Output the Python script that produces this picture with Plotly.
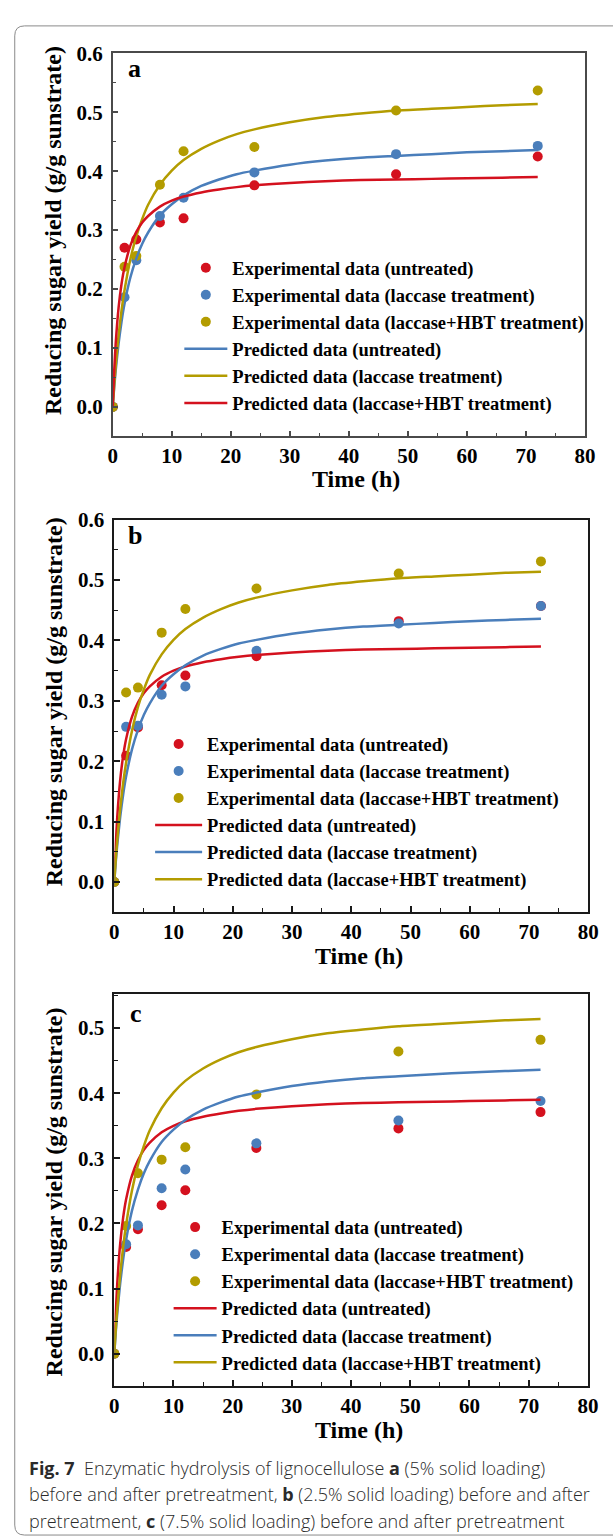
import plotly.graph_objects as go

W, H = 613, 1539

# ---------------- data ----------------
t_exp = [0, 2, 4, 8, 12, 24, 48, 72]

# panel a (5% solid loading)
a_untreated = [0, 0.270, 0.284, 0.313, 0.320, 0.376, 0.395, 0.425]
a_laccase = [0, 0.186, 0.249, 0.324, 0.355, 0.398, 0.429, 0.443]
a_hbt = [0, 0.238, 0.256, 0.377, 0.434, 0.441, 0.503, 0.537]

# panel b (2.5% solid loading)
b_untreated = [0, 0.209, 0.256, 0.326, 0.342, 0.374, 0.432, 0.457]
b_laccase = [0, 0.257, 0.259, 0.310, 0.324, 0.383, 0.428, 0.457]
b_hbt = [0, 0.314, 0.322, 0.413, 0.452, 0.486, 0.511, 0.531]

# panel c (7.5% solid loading)
c_untreated = [0, 0.164, 0.191, 0.228, 0.251, 0.316, 0.346, 0.371]
c_laccase = [0, 0.168, 0.197, 0.254, 0.283, 0.323, 0.358, 0.388]
c_hbt = [0, 0.196, 0.277, 0.298, 0.317, 0.398, 0.464, 0.482]

# predicted curves (same in all panels)
t_pred = [0, 0.25, 0.5, 1, 1.5, 2, 3, 4, 5, 6, 8, 10, 12, 15, 18, 21, 24,
          30, 36, 42, 48, 54, 60, 66, 72]
pred_low = [0, 0.061, 0.107, 0.169, 0.209, 0.237, 0.274, 0.297, 0.313, 0.324,
            0.340, 0.350, 0.357, 0.364, 0.369, 0.373, 0.376, 0.380, 0.383,
            0.385, 0.386, 0.387, 0.388, 0.389, 0.390]
pred_mid = [0, 0.033, 0.061, 0.108, 0.145, 0.175, 0.220, 0.252, 0.277, 0.296,
            0.325, 0.344, 0.359, 0.375, 0.386, 0.395, 0.401, 0.411, 0.418,
            0.423, 0.426, 0.429, 0.432, 0.434, 0.436]
pred_high = [0, 0.037, 0.069, 0.122, 0.164, 0.198, 0.251, 0.290, 0.319, 0.343,
             0.377, 0.401, 0.419, 0.438, 0.452, 0.463, 0.471, 0.483, 0.492,
             0.498, 0.503, 0.506, 0.509, 0.512, 0.514]

exp_names = ["Experimental data (untreated)",
             "Experimental data (laccase treatment)",
             "Experimental data (laccase+HBT treatment)"]
pred_names = ["Predicted data (untreated)",
              "Predicted data (laccase treatment)",
              "Predicted data (laccase+HBT treatment)"]
x_ticks = [0, 10, 20, 30, 40, 50, 60, 70, 80]

RED = "#D4111E"
BLUE = "#4A7EBB"
OLIVE = "#B39C00"

SERIF = "Liberation Serif"


def px(x):
    return x / W


def py(y):
    return 1 - y / H


fig = go.Figure()

panels = [
    ("", [a_untreated, a_laccase, a_hbt],
     [(pred_mid, BLUE), (pred_high, OLIVE), (pred_low, RED)], "legend"),
    ("2", [b_untreated, b_laccase, b_hbt],
     [(pred_low, RED), (pred_mid, BLUE), (pred_high, OLIVE)], "legend2"),
    ("3", [c_untreated, c_laccase, c_hbt],
     [(pred_low, RED), (pred_mid, BLUE), (pred_high, OLIVE)], "legend3"),
]

exp_colors = [RED, BLUE, OLIVE]

for suffix, exps, preds, leg in panels:
    xa = "x" + suffix
    ya = "y" + suffix
    for i, (vals, col) in enumerate(zip(exps, exp_colors)):
        fig.add_trace(go.Scatter(
            x=t_exp, y=vals, mode="markers", name=exp_names[i],
            marker=dict(color=col, size=10), xaxis=xa, yaxis=ya,
            legend=leg, hoverinfo="skip"))
    for i, (vals, col) in enumerate(preds):
        fig.add_trace(go.Scatter(
            x=t_pred, y=vals, mode="lines", name=pred_names[i],
            line=dict(color=col, width=2.5, shape="spline", smoothing=0.6),
            xaxis=xa, yaxis=ya, legend=leg, hoverinfo="skip"))

tickfont = dict(family=SERIF, size=21, color="black", weight="bold")
legfont = dict(family=SERIF, size=18.5, color="black", weight="bold")


def xaxis_cfg(x0, x1, anchor, lc):
    return dict(domain=[px(x0), px(x1)], anchor=anchor, range=[0, 80],
                tickmode="array", tickvals=x_ticks, ticks="inside", ticklen=6,
                tickwidth=1.5, tickcolor=lc, showline=True, linecolor=lc,
                linewidth=1.5, mirror=True, showgrid=False, zeroline=False,
                tickfont=tickfont,
                minor=dict(dtick=5, tick0=0, ticks="inside", ticklen=4,
                           tickwidth=1.2, tickcolor=lc, showgrid=False))


def yaxis_cfg(y0, y1, anchor, rng, lc):
    return dict(domain=[py(y1), py(y0)], anchor=anchor, range=rng,
                dtick=0.1, tick0=0, tickformat=".1f", ticks="inside",
                ticklen=6, tickwidth=1.5, tickcolor=lc, showline=True,
                linecolor=lc, linewidth=1.5, mirror=True, showgrid=False,
                zeroline=False, tickfont=tickfont, ticklabelstandoff=4,
                minor=dict(dtick=0.05, tick0=0, ticks="inside", ticklen=4,
                           tickwidth=1.2, tickcolor=lc, showgrid=False))


def legend_cfg(x, y, iw):
    return dict(x=px(x), y=py(y), xanchor="left", yanchor="top",
                bgcolor="rgba(0,0,0,0)", font=legfont, itemwidth=iw,
                tracegroupgap=0, borderwidth=0)


fig.update_layout(
    width=W, height=H, margin=dict(l=0, r=0, t=0, b=0),
    paper_bgcolor="white", plot_bgcolor="white", showlegend=True,
    xaxis=xaxis_cfg(110.6, 595.5, "y", "#4a4a4a"),
    yaxis=yaxis_cfg(41.7, 427.7, "x", [-0.05, 0.6], "#4a4a4a"),
    xaxis2=xaxis_cfg(112.2, 599, "y2", "#1a1a1a"),
    yaxis2=yaxis_cfg(511.7, 907.3, "x2", [-0.05, 0.6], "#1a1a1a"),
    xaxis3=xaxis_cfg(112.2, 598.5, "y3", "#1a1a1a"),
    yaxis3=yaxis_cfg(990, 1385, "x3", [-0.05, 0.552], "#1a1a1a"),
    legend=legend_cfg(179, 239, 43),
    legend2=legend_cfg(149, 719, 47),
    legend3=legend_cfg(168, 1206, 43),
)

ann = []
# panel letters
for letter, x, y in [("a", 133, 57), ("b", 133, 528), ("c", 134, 1009)]:
    ann.append(dict(text="<b>" + letter + "</b>", x=px(x), y=py(y),
                    xref="paper", yref="paper", showarrow=False,
                    xanchor="center", yanchor="middle",
                    font=dict(family=SERIF, size=26, color="black")))
# axis titles
for x, y in [(360, 471), (364, 951), (363, 1429)]:
    ann.append(dict(text="<b>Time (h)</b>", x=px(x), y=py(y), xref="paper",
                    yref="paper", showarrow=False, xanchor="center",
                    yanchor="middle",
                    font=dict(family=SERIF, size=24, color="black")))
for x, y in [(50, 220), (50, 695), (50, 1189)]:
    ann.append(dict(text="<b>Reducing sugar yield (g/g sunstrate)</b>",
                    x=px(x), y=py(y), xref="paper", yref="paper",
                    showarrow=False, xanchor="center", yanchor="middle",
                    textangle=-90,
                    font=dict(family=SERIF, size=24, color="black")))
# caption
cap_font = dict(family="Open Sans", size=18, color="#2a2a2a", weight=300)
cap_lines = [
    "<b>Fig. 7</b>\u00a0\u00a0Enzymatic hydrolysis of lignocellulose <b>a</b> (5% solid loading)",
    "before and after pretreatment, <b>b</b> (2.5% solid loading) before and after",
    "pretreatment, <b>c</b> (7.5% solid loading) before and after pretreatment",
]
for i, line in enumerate(cap_lines):
    ann.append(dict(text=line, x=px(23), y=py(1467 + 27 * i), xref="paper",
                    yref="paper", showarrow=False, xanchor="left",
                    yanchor="middle", align="left", font=cap_font))
fig.update_layout(annotations=ann)

# outer rounded frame of the figure box
r = 10
x0, y0, x1, y1 = 10, 14, 625, 1535
path = (f"M {px(x0 + r)},{py(y0)} L {px(x1)},{py(y0)} "
        f"M {px(x0)},{py(y0 + r)} Q {px(x0)},{py(y0)} {px(x0 + r)},{py(y0)} "
        f"M {px(x0)},{py(y0 + r)} L {px(x0)},{py(y1 - r)} "
        f"Q {px(x0)},{py(y1)} {px(x0 + r)},{py(y1)} L {px(x1)},{py(y1)}")
fig.add_shape(type="path", path=path, xref="paper", yref="paper",
              line=dict(color="#8a8a8a", width=1))

fig.write_html("out.html")
